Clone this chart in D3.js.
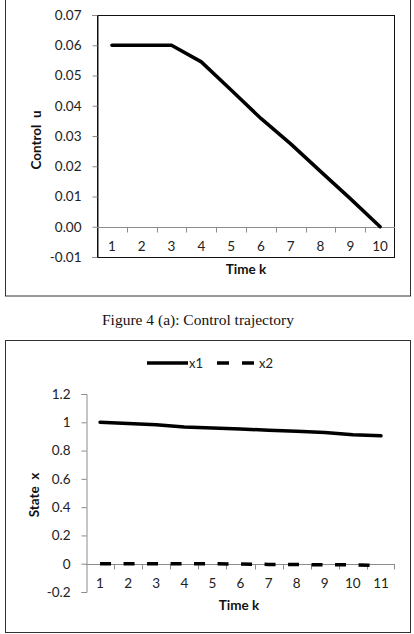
<!DOCTYPE html>
<html>
<head>
<meta charset="utf-8">
<script src="https://cdn.jsdelivr.net/npm/d3@7/dist/d3.min.js"></script>
<style>
  body { margin: 0; background: #fff; }
  svg { display: block; }
  .tick text { font-family: Lato, "Open Sans", sans-serif; font-size: 13.5px; fill: #222; }
  .title { font-family: Lato, "Open Sans", sans-serif; font-size: 13.5px; font-weight: bold; fill: #111; }
  .caption { font-family: "Liberation Serif", "Times New Roman", serif; font-size: 15.5px; fill: #111; }
  .legend { font-family: Lato, "Open Sans", sans-serif; font-size: 13px; fill: #222; }
</style>
</head>
<body>
<svg id="chart" width="414" height="634"></svg>
<script>
// Figure 4 (a): control u over time k
const controlSteps = [1, 2, 3, 4, 5, 6, 7, 8, 9, 10];
const controlU = [0.06, 0.06, 0.06, 0.0545, 0.0452, 0.0358, 0.0274, 0.0183, 0.0093, 0.0];
const controlTicks = [-0.01, 0, 0.01, 0.02, 0.03, 0.04, 0.05, 0.06, 0.07];

// state trajectory x1, x2 over time k
const stateSteps = [1, 2, 3, 4, 5, 6, 7, 8, 9, 10, 11];
const stateX1 = [1.0, 0.992, 0.982, 0.967, 0.96, 0.952, 0.944, 0.936, 0.928, 0.912, 0.904];
const stateX2 = [0.0, 0.0, 0.0, 0.0, 0.0, -0.002, -0.005, -0.006, -0.007, -0.008, -0.012];
const stateTicks = [-0.2, 0, 0.2, 0.4, 0.6, 0.8, 1, 1.2];

const svg = d3.select('#chart');
const axisColor = '#8c8c8c';

// ---------- top chart ----------
svg.append('rect')
  .attr('x', 5.5).attr('y', -2).attr('width', 405).attr('height', 298)
  .attr('fill', 'none').attr('stroke', '#333');

const t = { left: 97, right: 395, top: 15, bottom: 257 };

const x1 = d3.scaleBand()
  .domain(controlSteps)
  .range([t.left, t.right]);
const y1 = d3.scaleLinear()
  .domain([-0.01, 0.07])
  .range([t.bottom, t.top]);

// plot border
svg.append('rect')
  .attr('x', t.left + 0.5).attr('y', t.top + 0.5)
  .attr('width', t.right - t.left - 1).attr('height', t.bottom - t.top)
  .attr('fill', 'none').attr('stroke', '#111');

// y axis
const gy1 = svg.append('g')
  .attr('transform', `translate(${t.left + 0.5},0)`)
  .call(d3.axisLeft(y1).tickValues(controlTicks).tickFormat(d => d.toFixed(2)).tickSize(5).tickPadding(11));
gy1.select('.domain').attr('stroke', '#111');
gy1.selectAll('.tick line').attr('stroke', axisColor);

// x axis at zero
const zero1 = Math.round(y1(0)) + 0.5;
svg.append('line')
  .attr('x1', t.left).attr('x2', t.right)
  .attr('y1', zero1).attr('y2', zero1)
  .attr('stroke', axisColor);
svg.append('g')
  .selectAll('line')
  .data(controlSteps.slice(1))
  .join('line')
    .attr('x1', d => Math.round(x1(d)) + 0.5)
    .attr('x2', d => Math.round(x1(d)) + 0.5)
    .attr('y1', zero1).attr('y2', zero1 + 5)
    .attr('stroke', axisColor);
const gx1 = svg.append('g')
  .attr('transform', `translate(0,${zero1})`)
  .call(d3.axisBottom(x1).tickSize(0).tickPadding(14));
gx1.select('.domain').remove();

svg.append('path')
  .datum(controlU)
  .attr('fill', 'none')
  .attr('stroke', '#000')
  .attr('stroke-width', 3.5)
  .attr('stroke-linejoin', 'round')
  .attr('stroke-linecap', 'round')
  .attr('d', d3.line()
    .x((d, i) => x1(controlSteps[i]) + x1.bandwidth() / 2)
    .y(d => y1(d)));

svg.append('text')
  .attr('class', 'title')
  .attr('transform', 'translate(41,140) rotate(-90)')
  .attr('text-anchor', 'middle')
  .attr('xml:space', 'preserve')
  .text('Control  u');
svg.append('text')
  .attr('class', 'title')
  .attr('x', 246).attr('y', 274)
  .attr('text-anchor', 'middle')
  .text('Time k');

// caption
svg.append('text')
  .attr('class', 'caption')
  .attr('x', 198).attr('y', 325)
  .attr('text-anchor', 'middle')
  .text('Figure 4 (a): Control trajectory');

// ---------- bottom chart ----------
svg.append('rect')
  .attr('x', 5.5).attr('y', 340.5).attr('width', 405).attr('height', 292)
  .attr('fill', 'none').attr('stroke', '#333');

const b = { left: 86, right: 395, top: 394, bottom: 592 };

const x2 = d3.scaleBand()
  .domain(stateSteps)
  .range([b.left, b.right]);
const y2 = d3.scaleLinear()
  .domain([-0.2, 1.2])
  .range([b.bottom, b.top]);

const gy2 = svg.append('g')
  .attr('transform', `translate(${b.left + 0.5},0)`)
  .call(d3.axisLeft(y2).tickValues(stateTicks).tickFormat(d => String(+d.toFixed(1))).tickSize(5).tickPadding(11));
gy2.select('.domain').attr('stroke', axisColor);
gy2.selectAll('.tick line').attr('stroke', axisColor);

const zero2 = Math.round(y2(0)) + 0.5;
svg.append('line')
  .attr('x1', b.left).attr('x2', b.right)
  .attr('y1', zero2).attr('y2', zero2)
  .attr('stroke', axisColor);
svg.append('g')
  .selectAll('line')
  .data(stateSteps.slice(1).concat(['end']))
  .join('line')
    .attr('x1', d => d === 'end' ? b.right - 0.5 : Math.round(x2(d)) + 0.5)
    .attr('x2', d => d === 'end' ? b.right - 0.5 : Math.round(x2(d)) + 0.5)
    .attr('y1', zero2).attr('y2', zero2 + 5)
    .attr('stroke', axisColor);
const gx2 = svg.append('g')
  .attr('transform', `translate(0,${zero2})`)
  .call(d3.axisBottom(x2).tickSize(0).tickPadding(14));
gx2.select('.domain').remove();

const line2 = d3.line()
  .x((d, i) => x2(stateSteps[i]) + x2.bandwidth() / 2)
  .y(d => y2(d));

svg.append('path')
  .datum(stateX1)
  .attr('fill', 'none')
  .attr('stroke', '#000')
  .attr('stroke-width', 3.5)
  .attr('stroke-linejoin', 'round')
  .attr('stroke-linecap', 'round')
  .attr('d', line2);
svg.append('path')
  .datum(stateX2)
  .attr('fill', 'none')
  .attr('stroke', '#000')
  .attr('stroke-width', 3.5)
  .attr('stroke-dasharray', '11,12.5')
  .attr('d', line2);

// legend
const lg = svg.append('g').attr('transform', 'translate(0,363)');
lg.append('line')
  .attr('x1', 147).attr('x2', 188).attr('y1', 0).attr('y2', 0)
  .attr('stroke', '#000').attr('stroke-width', 3.5);
lg.append('text').attr('class', 'legend').attr('x', 189).attr('y', 4.5).text('x1');
lg.append('line')
  .attr('x1', 217).attr('x2', 254).attr('y1', 0).attr('y2', 0)
  .attr('stroke', '#000').attr('stroke-width', 3.5)
  .attr('stroke-dasharray', '12,13');
lg.append('text').attr('class', 'legend').attr('x', 259).attr('y', 4.5).text('x2');

svg.append('text')
  .attr('class', 'title')
  .attr('transform', 'translate(39,495) rotate(-90)')
  .attr('text-anchor', 'middle')
  .attr('xml:space', 'preserve')
  .text('State  x');
svg.append('text')
  .attr('class', 'title')
  .attr('x', 239).attr('y', 610)
  .attr('text-anchor', 'middle')
  .text('Time k');
</script>
</body>
</html>
